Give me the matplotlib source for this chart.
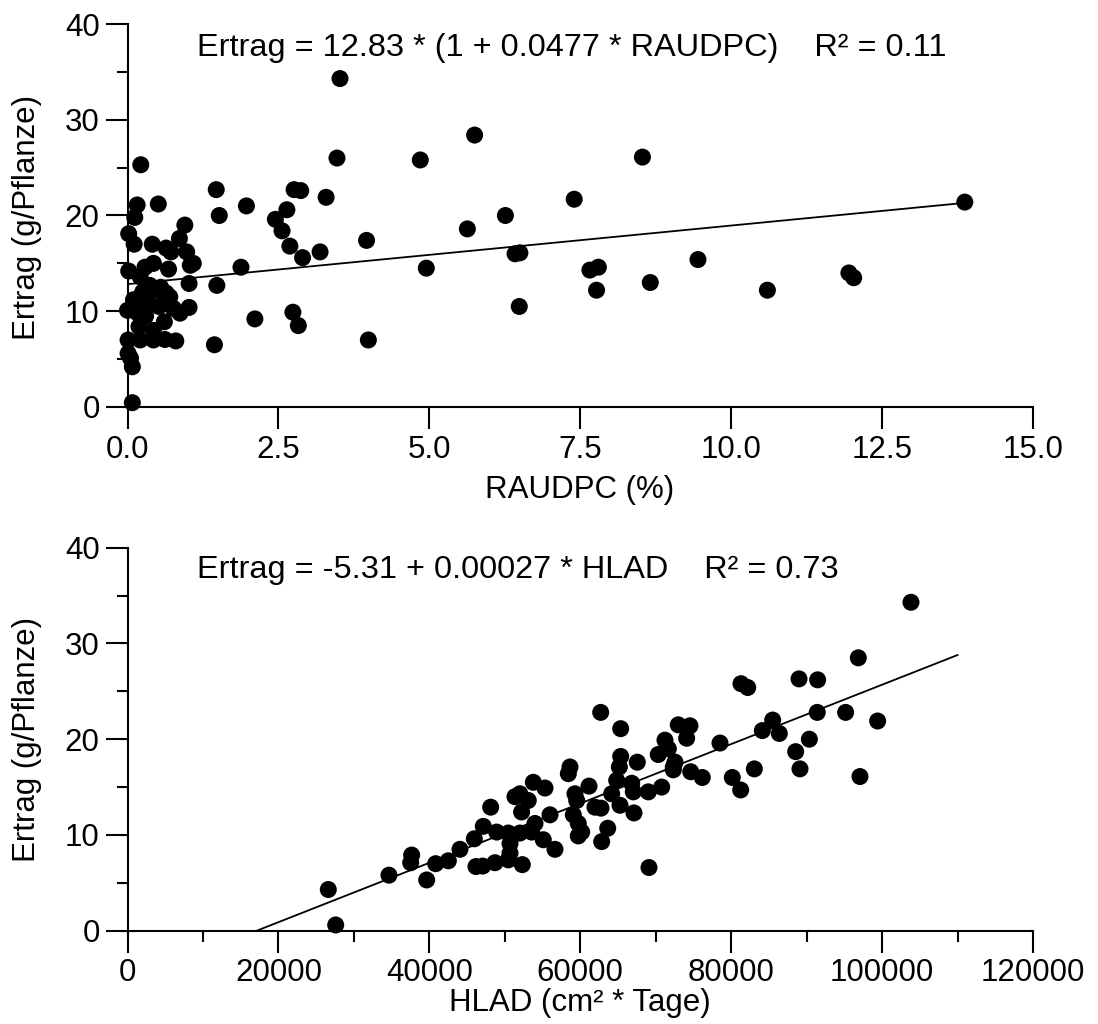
import numpy as np
import matplotlib
matplotlib.use("Agg")
import matplotlib.pyplot as plt
from matplotlib.ticker import MultipleLocator, FormatStrFormatter

plt.rcParams['font.family'] = ['Liberation Sans', 'DejaVu Sans']

# --- data: top panel (RAUDPC vs Ertrag) ---
raudpc = [0.22, 3.47, 1.47, 2.76, 2.87, 3.29, 0.16, 0.51, 1.97, 2.64, 1.52, 0.12, 2.45, 0.95,
          2.56, 0.02, 3.96, 0.86, 0.11, 0.41, 2.69, 0.64, 3.19, 0.98, 1.09, 1.04, 2.90, 0.72,
          0.43, 0.29, 0.02, 0.68, 1.88, 0.21, 1.02, 1.48, 0.37, 0.48, 0.64, 0.10, 0.27, 0.52,
          0.00, 0.76, 0.87, 1.02, 2.74, 2.11, 2.83, 0.19, 0.61, 0.43, 0.01, 0.21, 0.43, 0.62,
          0.80, 1.44, 0.01, 0.05, 0.08, 0.08, 3.99,
          5.75, 4.85, 8.53, 7.40, 6.26, 5.63, 13.87, 6.42, 4.95, 7.66, 7.80, 9.45, 8.66, 7.77,
          10.60, 11.95, 12.03, 6.49, 3.52, 6.50,
          0.30, 0.55, 0.35, 0.15, 0.70, 0.25]
ertrag_top = [25.3, 26.0, 22.7, 22.7, 22.6, 21.9, 21.1, 21.2, 21.0, 20.6, 20.0, 19.8, 19.6, 19.0,
              18.4, 18.1, 17.4, 17.6, 17.0, 17.0, 16.8, 16.6, 16.2, 16.2, 15.0, 14.8, 15.6, 16.2,
              15.0, 14.6, 14.2, 14.4, 14.6, 13.6, 12.9, 12.7, 12.7, 12.2, 11.9, 11.2, 11.5, 10.5,
              10.1, 10.3, 9.8, 10.4, 9.9, 9.2, 8.5, 8.4, 8.9, 8.0, 7.0, 7.0, 7.0, 7.05,
              6.9, 6.5, 5.6, 5.1, 4.2, 0.45, 7.0,
              28.4, 25.8, 26.1, 21.7, 20.0, 18.6, 21.4, 16.0, 14.5, 14.3, 14.6, 15.4, 13.0, 12.2,
              12.2, 14.0, 13.5, 10.5, 34.3, 16.1,
              9.5, 12.5, 10.8, 9.9, 11.5, 12.0]

# --- data: bottom panel (HLAD vs Ertrag) ---
hlad = [26610, 27590, 34650, 37660, 37530, 39650, 40840, 42520, 44060, 45960, 46180, 47070,
        47150, 48130, 48700, 48920, 50470, 50690, 50690, 50470, 51350, 52010, 52230, 53110,
        52320, 52010, 53560, 53780, 55330, 54000, 55100, 55990, 56650, 58640, 58420, 59300,
        59530, 59080, 59740, 59740, 60190, 61160, 61950, 62750, 62710, 62840, 63640, 64160,
        64830, 65180, 65360, 65360, 65270, 66820, 67030, 67120, 67560, 69110, 69020, 70340,
        70790, 71230, 71670, 72330, 72990,
        103830, 96850, 88990, 91460, 81300, 82190, 91410, 95170, 99410, 85500, 84130, 86380,
        90360, 78520, 88550, 74540, 74100, 72560, 72330, 74640, 76170, 80150, 81260, 83070,
        89120, 97070]
ertrag_bot = [4.3, 0.6, 5.8, 7.9, 7.1, 5.3, 7.0, 7.3, 8.5, 9.6, 6.7, 6.75,
              10.9, 12.9, 7.1, 10.3, 10.2, 8.1, 9.1, 7.4, 14.0, 14.3, 12.4, 13.6,
              6.9, 10.2, 10.3, 15.5, 14.9, 11.2, 9.5, 12.1, 8.5, 17.1, 16.4, 14.3,
              13.6, 12.1, 11.2, 9.9, 10.3, 15.1, 12.9, 12.8, 22.8, 9.3, 10.7, 14.3,
              15.7, 17.1, 18.2, 21.1, 13.1, 15.4, 14.5, 12.3, 17.6, 6.6, 14.5, 18.4,
              15.0, 19.9, 19.0, 17.1, 21.5,
              34.3, 28.5, 26.3, 26.2, 25.8, 25.4, 22.8, 22.8, 21.9, 22.0, 20.9, 20.6,
              20.0, 19.6, 18.7, 21.4, 20.1, 17.6, 16.8, 16.6, 16.0, 16.0, 14.7, 16.9,
              16.9, 16.1]

# fitted lines as drawn in the picture
fit_top = (12.83, 0.0477)          # Ertrag = a * (1 + b * RAUDPC)
fit_top_range = (0.0, 13.87)
fit_bot = (-5.31, 0.00031)          # Ertrag = a + b * HLAD
fit_bot_range = (17130, 110000)

eq_top = "Ertrag = 12.83 * (1 + 0.0477 * RAUDPC)    R² = 0.11"
eq_bot = "Ertrag = -5.31 + 0.00027 * HLAD    R² = 0.73"

FS = 22.5
FS_EQ = 23.4
W, H = 1098, 1024
fig = plt.figure(figsize=(W / 100, H / 100), dpi=100)

def style(ax):
    for s in ['top', 'right']:
        ax.spines[s].set_visible(False)
    for s in ['left', 'bottom']:
        ax.spines[s].set_linewidth(1.5)
    ax.tick_params(which='major', direction='out', length=16, width=1.5, labelsize=FS, pad=4)
    ax.tick_params(which='minor', direction='out', length=8, width=1.5)
    ax.set_ylim(0, 40)
    ax.yaxis.set_major_locator(MultipleLocator(10))
    ax.yaxis.set_minor_locator(MultipleLocator(5))

ax1 = fig.add_axes([127.5 / W, 1 - 407 / H, (1033 - 127.5) / W, (407 - 24) / H])
style(ax1)
ax1.set_xlim(0, 15)
ax1.xaxis.set_major_locator(MultipleLocator(2.5))
ax1.xaxis.set_major_formatter(FormatStrFormatter('%.1f'))
ax1.scatter(raudpc, ertrag_top, s=150, color='black', edgecolors='none', clip_on=False, zorder=3)
xf = np.linspace(*fit_top_range, 50)
ax1.plot(xf, fit_top[0] * (1 + fit_top[1] * xf), color='black', lw=1.3)

ax2 = fig.add_axes([127.5 / W, 1 - 930.7 / H, (1033 - 127.5) / W, (930.7 - 547.7) / H])
style(ax2)
ax2.set_xlim(0, 120000)
ax2.xaxis.set_major_locator(MultipleLocator(20000))
ax2.xaxis.set_minor_locator(MultipleLocator(10000))
ax2.scatter(hlad, ertrag_bot, s=150, color='black', edgecolors='none', clip_on=False, zorder=3)
xf = np.array(fit_bot_range)
ax2.plot(xf, fit_bot[0] + fit_bot[1] * xf, color='black', lw=1.3)

fig.text(197 / W, 1 - 48 / H, eq_top, fontsize=FS_EQ, va='center', ha='left')
fig.text(197 / W, 1 - 570 / H, eq_bot, fontsize=FS_EQ, va='center', ha='left')

for yc in (217, 739):
    fig.text(27 / W, 1 - yc / H, "Ertrag (g/Pflanze)", fontsize=FS, rotation=90,
             va='center', ha='center')
fig.text(580 / W, 1 - 490 / H, "RAUDPC (%)", fontsize=FS, va='center', ha='center')
fig.text(580 / W, 1 - 1003 / H, "HLAD (cm² * Tage)", fontsize=FS, va='center', ha='center')

fig.savefig("out.png", dpi=100)
